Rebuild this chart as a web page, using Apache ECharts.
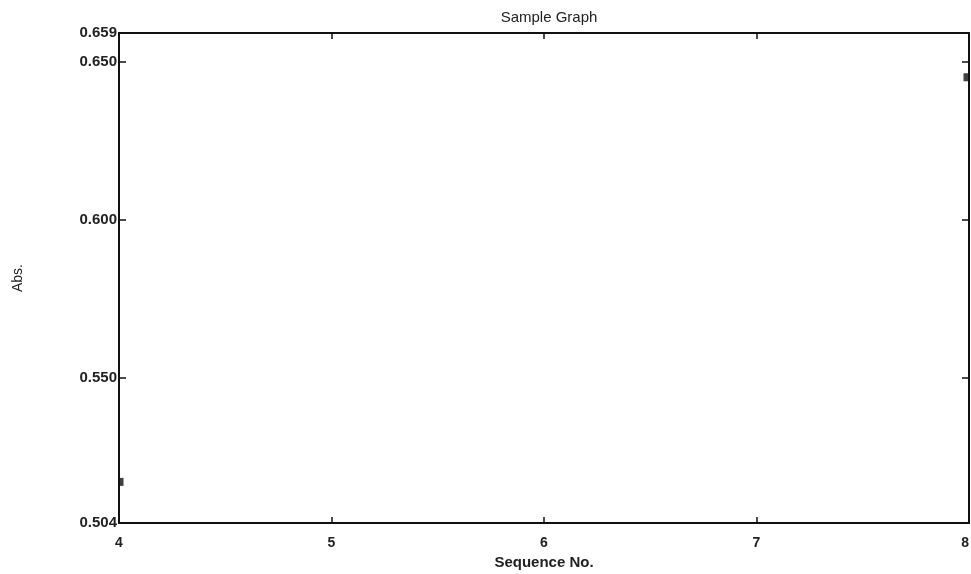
<!DOCTYPE html>
<html>
<head>
<meta charset="utf-8">
<script src="https://cdn.jsdelivr.net/npm/echarts@6/dist/echarts.min.js"></script>
<style>html,body{margin:0;padding:0;background:#fff;}#c{width:971px;height:574px;}</style>
</head>
<body>
<div id="c"></div>
<script>
const xValues = [4, 8];
const yValues = [0.517, 0.645];
const xTicks = [4, 5, 6, 7, 8];
const yTicks = [0.504, 0.550, 0.600, 0.650, 0.659];
const yInnerTicks = [0.550, 0.600, 0.650];

const font = 'Liberation Sans, Arial, sans-serif';
const chart = echarts.init(document.getElementById('c'));
const pts = xValues.map((x, i) => ({value: [x, yValues[i]], symbolOffset: [i === 0 ? 2 : -3, 0]}));
chart.setOption({
  animation: false,
  title: {text: 'Sample Graph', left: 544, textAlign: 'center', top: 5,
    textStyle: {fontFamily: font, fontSize: 15, fontWeight: 'normal', color: '#222'}},
  grid: {left: 119, right: 2, top: 33, bottom: 51, outerBoundsMode: 'none', containLabel: false},
  xAxis: [{
    type: 'value', min: 4, max: 8, interval: 1,
    name: 'Sequence No.', nameLocation: 'middle', nameGap: 31,
    nameTextStyle: {fontFamily: font, fontSize: 15, fontWeight: 'bold', color: '#222'},
    axisLine: {lineStyle: {color: '#111', width: 2}},
    axisTick: {inside: true, length: 6, lineStyle: {color: '#111', width: 1.5}},
    axisLabel: {fontFamily: font, fontSize: 14, fontWeight: 'bold', color: '#222', margin: 13,
      alignMaxLabel: 'right'},
    splitLine: {show: false}
  }, {
    type: 'value', min: 4, max: 8, interval: 1, position: 'top',
    axisLine: {lineStyle: {color: '#111', width: 2}},
    axisTick: {inside: true, length: 6, lineStyle: {color: '#111', width: 1.5}},
    axisLabel: {show: false}, splitLine: {show: false}
  }],
  yAxis: [{
    type: 'value', min: 0.504, max: 0.659,
    name: 'Abs.', nameLocation: 'middle', nameGap: 94, nameRotate: 90,
    nameTextStyle: {fontFamily: font, fontSize: 14, color: '#222'},
    axisLine: {show: true, lineStyle: {color: '#111', width: 2}},
    axisTick: {show: true, inside: true, length: 7, customValues: yInnerTicks, lineStyle: {color: '#111', width: 1.5}},
    axisLabel: {customValues: yTicks, fontFamily: font, fontSize: 15, fontWeight: 'bold', color: '#222', margin: 2,
      formatter: v => v.toFixed(3)},
    splitLine: {show: false}
  }, {
    type: 'value', min: 0.504, max: 0.659, position: 'right',
    axisLine: {show: true, lineStyle: {color: '#111', width: 2}},
    axisTick: {show: true, inside: true, length: 7, customValues: yInnerTicks, lineStyle: {color: '#111', width: 1.5}},
    axisLabel: {show: false}, splitLine: {show: false}
  }],
  series: [{
    type: 'scatter', data: pts, symbol: 'rect', symbolSize: [5, 8],
    itemStyle: {color: '#111'}, clip: false
  }]
});
</script>
</body>
</html>
